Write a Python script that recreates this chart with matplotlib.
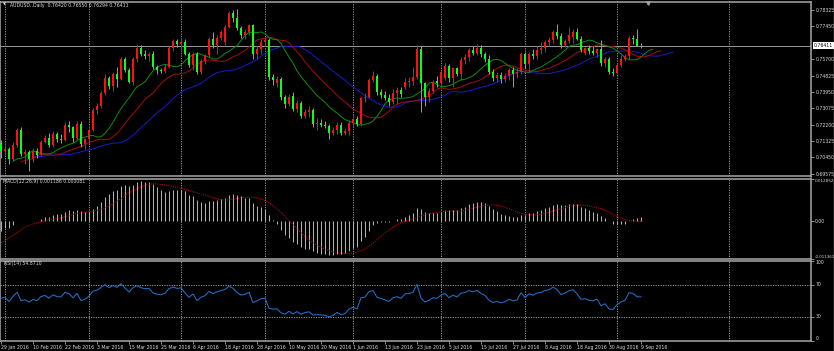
import numpy as np
import pandas as pd
import matplotlib
matplotlib.use("Agg")
import matplotlib.pyplot as plt

# ---------------- data ----------------
# closes before the first visible bar (Nov 2015 - 28 Jan 2016), only used to warm up the indicators
hist_closes = [0.7140, 0.7180, 0.7160, 0.7140, 0.7040, 0.7030, 0.7050, 0.7080, 0.7110, 0.7120, 0.7070,
               0.7090, 0.7130, 0.7160, 0.7180, 0.7230, 0.7210, 0.7200, 0.7230, 0.7210, 0.7230,
               0.7310, 0.7300, 0.7330, 0.7350, 0.7250, 0.7230, 0.7280, 0.7290, 0.7220, 0.7240, 0.7230,
               0.7200, 0.7150, 0.7160, 0.7210, 0.7210, 0.7220, 0.7260, 0.7260, 0.7270, 0.7300, 0.7290, 0.7290,
               0.7290, 0.7170, 0.7130, 0.7050, 0.7020, 0.6990, 0.7000, 0.6970, 0.6930, 0.6960, 0.6850,
               0.6870, 0.6930, 0.6880, 0.6930, 0.7000, 0.6960, 0.7000, 0.7050, 0.7120]

opens = [0.7120, 0.7080, 0.7090, 0.7034, 0.7114, 0.7190, 0.7061, 0.7075, 0.7035, 0.7080,
         0.7060, 0.7130, 0.7150, 0.7110, 0.7170, 0.7145, 0.7140, 0.7220, 0.7205, 0.7150,
         0.7225, 0.7117, 0.7141, 0.7194, 0.7300, 0.7320, 0.7390, 0.7470, 0.7429, 0.7490,
         0.7465, 0.7570, 0.7510, 0.7450, 0.7570, 0.7630, 0.7600, 0.7585, 0.7595, 0.7530,
         0.7510, 0.7505, 0.7530, 0.7630, 0.7665, 0.7650, 0.7660, 0.7600, 0.7540, 0.7600,
         0.7500, 0.7560, 0.7590, 0.7680, 0.7645, 0.7685, 0.7660, 0.7740, 0.7815, 0.7790,
         0.7735, 0.7700, 0.7715, 0.7750, 0.7595, 0.7625, 0.7660, 0.7670, 0.7477, 0.7445,
         0.7465, 0.7370, 0.7330, 0.7375, 0.7305, 0.7335, 0.7268, 0.7290, 0.7300, 0.7223,
         0.7228, 0.7220, 0.7212, 0.7178, 0.7190, 0.7220, 0.7178, 0.7186, 0.7230, 0.7250,
         0.7225, 0.7360, 0.7370, 0.7460, 0.7480, 0.7395, 0.7380, 0.7360, 0.7340, 0.7390,
         0.7405, 0.7420, 0.7450, 0.7455, 0.7475, 0.7625, 0.7440, 0.7370, 0.7400, 0.7455,
         0.7440, 0.7470, 0.7535, 0.7470, 0.7520, 0.7490, 0.7566, 0.7580, 0.7620, 0.7605,
         0.7630, 0.7595, 0.7570, 0.7503, 0.7470, 0.7485, 0.7465, 0.7478, 0.7510, 0.7490,
         0.7500, 0.7600, 0.7545, 0.7600, 0.7585, 0.7620, 0.7628, 0.7660, 0.7670, 0.7715,
         0.7695, 0.7645, 0.7665, 0.7690, 0.7715, 0.7680, 0.7605, 0.7628, 0.7612, 0.7605,
         0.7622, 0.7550, 0.7570, 0.7503, 0.7495, 0.7540, 0.7570, 0.7585, 0.7685, 0.7675,
         0.76420]
highs = [0.7140, 0.7110, 0.7100, 0.7130, 0.7200, 0.7205, 0.7090, 0.7085, 0.7095, 0.7095,
         0.7140, 0.7165, 0.7175, 0.7185, 0.7180, 0.7170, 0.7235, 0.7240, 0.7215, 0.7240,
         0.7240, 0.7150, 0.7200, 0.7310, 0.7335, 0.7400, 0.7490, 0.7480, 0.7500, 0.7530,
         0.7580, 0.7580, 0.7520, 0.7580, 0.7650, 0.7645, 0.7620, 0.7610, 0.7615, 0.7540,
         0.7525, 0.7545, 0.7640, 0.7680, 0.7680, 0.7680, 0.7680, 0.7610, 0.7610, 0.7610,
         0.7570, 0.7600, 0.7690, 0.7715, 0.7700, 0.7725, 0.7750, 0.7825, 0.7835, 0.7836,
         0.7745, 0.7730, 0.7760, 0.7760, 0.7640, 0.7680, 0.7690, 0.7685, 0.7490, 0.7480,
         0.7475, 0.7380, 0.7385, 0.7395, 0.7350, 0.7345, 0.7305, 0.7320, 0.7310, 0.7255,
         0.7250, 0.7240, 0.7225, 0.7210, 0.7235, 0.7235, 0.7200, 0.7245, 0.7270, 0.7265,
         0.7370, 0.7390, 0.7470, 0.7505, 0.7490, 0.7410, 0.7400, 0.7385, 0.7410, 0.7420,
         0.7420, 0.7470, 0.7475, 0.7530, 0.7647, 0.7640, 0.7450, 0.7415, 0.7460, 0.7480,
         0.7510, 0.7550, 0.7545, 0.7530, 0.7530, 0.7580, 0.7600, 0.7630, 0.7640, 0.7650,
         0.7645, 0.7610, 0.7590, 0.7515, 0.7500, 0.7500, 0.7495, 0.7520, 0.7530, 0.7520,
         0.7610, 0.7610, 0.7610, 0.7625, 0.7640, 0.7660, 0.7670, 0.7690, 0.7725, 0.7755,
         0.7710, 0.7680, 0.7740, 0.7730, 0.7735, 0.7695, 0.7635, 0.7645, 0.7640, 0.7630,
         0.7670, 0.7580, 0.7580, 0.7520, 0.7550, 0.7590, 0.7600, 0.7695, 0.7700, 0.7732,
         0.76550]
lows = [0.7040, 0.7060, 0.7010, 0.7025, 0.7100, 0.7050, 0.7010, 0.6975, 0.7020, 0.7040,
        0.7050, 0.7120, 0.7100, 0.7100, 0.7125, 0.7120, 0.7135, 0.7180, 0.7130, 0.7140,
        0.7100, 0.7090, 0.7120, 0.7185, 0.7275, 0.7310, 0.7380, 0.7410, 0.7400, 0.7420,
        0.7460, 0.7500, 0.7440, 0.7430, 0.7555, 0.7585, 0.7570, 0.7560, 0.7515, 0.7490,
        0.7495, 0.7495, 0.7520, 0.7615, 0.7635, 0.7610, 0.7590, 0.7530, 0.7510, 0.7490,
        0.7490, 0.7545, 0.7580, 0.7630, 0.7600, 0.7670, 0.7640, 0.7735, 0.7770, 0.7725,
        0.7685, 0.7680, 0.7700, 0.7570, 0.7570, 0.7600, 0.7640, 0.7460, 0.7430, 0.7420,
        0.7350, 0.7310, 0.7320, 0.7295, 0.7290, 0.7255, 0.7255, 0.7260, 0.7210, 0.7190,
        0.7205, 0.7200, 0.7145, 0.7165, 0.7170, 0.7165, 0.7165, 0.7165, 0.7215, 0.7215,
        0.7215, 0.7340, 0.7360, 0.7450, 0.7380, 0.7360, 0.7350, 0.7320, 0.7330, 0.7330,
        0.7370, 0.7410, 0.7420, 0.7430, 0.7465, 0.7290, 0.7320, 0.7340, 0.7390, 0.7420,
        0.7420, 0.7460, 0.7450, 0.7420, 0.7480, 0.7460, 0.7545, 0.7560, 0.7590, 0.7590,
        0.7580, 0.7555, 0.7490, 0.7455, 0.7450, 0.7440, 0.7450, 0.7460, 0.7420, 0.7470,
        0.7490, 0.7520, 0.7500, 0.7570, 0.7570, 0.7600, 0.7610, 0.7640, 0.7655, 0.7680,
        0.7630, 0.7635, 0.7655, 0.7655, 0.7670, 0.7610, 0.7590, 0.7600, 0.7590, 0.7580,
        0.7535, 0.7530, 0.7490, 0.7480, 0.7490, 0.7530, 0.7560, 0.7570, 0.7650, 0.7640,
        0.76294]
closes = [0.7080, 0.7090, 0.7034, 0.7114, 0.7190, 0.7061, 0.7075, 0.7035, 0.7080, 0.7060,
          0.7130, 0.7150, 0.7110, 0.7170, 0.7145, 0.7140, 0.7220, 0.7205, 0.7150, 0.7225,
          0.7117, 0.7141, 0.7194, 0.7300, 0.7320, 0.7390, 0.7470, 0.7429, 0.7490, 0.7465,
          0.7570, 0.7510, 0.7450, 0.7570, 0.7630, 0.7600, 0.7585, 0.7595, 0.7530, 0.7510,
          0.7505, 0.7530, 0.7630, 0.7665, 0.7650, 0.7660, 0.7600, 0.7540, 0.7600, 0.7500,
          0.7560, 0.7590, 0.7680, 0.7645, 0.7685, 0.7715, 0.7740, 0.7815, 0.7790, 0.7735,
          0.7700, 0.7715, 0.7750, 0.7595, 0.7625, 0.7660, 0.7670, 0.7477, 0.7460, 0.7465,
          0.7370, 0.7330, 0.7370, 0.7305, 0.7335, 0.7268, 0.7290, 0.7300, 0.7223, 0.7228,
          0.7220, 0.7212, 0.7178, 0.7190, 0.7220, 0.7178, 0.7186, 0.7230, 0.7250, 0.7225,
          0.7360, 0.7370, 0.7460, 0.7480, 0.7395, 0.7380, 0.7360, 0.7340, 0.7390, 0.7405,
          0.7385, 0.7450, 0.7455, 0.7475, 0.7625, 0.7440, 0.7370, 0.7400, 0.7450, 0.7440,
          0.7500, 0.7535, 0.7470, 0.7520, 0.7490, 0.7566, 0.7580, 0.7620, 0.7605, 0.7630,
          0.7595, 0.7570, 0.7503, 0.7470, 0.7485, 0.7465, 0.7478, 0.7510, 0.7490, 0.7500,
          0.7600, 0.7545, 0.7600, 0.7585, 0.7620, 0.7628, 0.7660, 0.7670, 0.7715, 0.7695,
          0.7645, 0.7665, 0.7700, 0.7715, 0.7680, 0.7620, 0.7628, 0.7612, 0.7605, 0.7622,
          0.7550, 0.7570, 0.7503, 0.7495, 0.7540, 0.7570, 0.7585, 0.7685, 0.7675, 0.7642,
          0.76411]

date_labels = ["29 Jan 2016", "10 Feb 2016", "22 Feb 2016", "3 Mar 2016", "15 Mar 2016", "25 Mar 2016",
               "6 Apr 2016", "18 Apr 2016", "28 Apr 2016", "10 May 2016", "20 May 2016", "1 Jun 2016",
               "13 Jun 2016", "23 Jun 2016", "5 Jul 2016", "15 Jul 2016", "27 Jul 2016", "8 Aug 2016",
               "18 Aug 2016", "30 Aug 2016", "9 Sep 2016"]
month_start_bars = [1, 22, 45, 66, 88, 110, 131, 154, 182]
price_ticks = [0.78325, 0.77450, 0.75700, 0.74825, 0.73950, 0.73075, 0.72200, 0.71325, 0.70450, 0.69575]
macd_ticks = [-0.011361, 0.0, 0.012852]
rsi_ticks = [0, 30, 70, 100]
bid = 0.76411
title = "AUDUSD..Daily  0.76420 0.76550 0.76294 0.76411"

# ---------------- indicators ----------------
n_hist = len(hist_closes)
all_close = pd.Series(hist_closes + closes)
all_median = pd.Series(hist_closes + [(h + l) / 2 for h, l in zip(highs, lows)])

def smma(s, n):
    return s.ewm(alpha=1.0 / n, adjust=False).mean()

jaw = smma(all_median, 13).values[n_hist:]
teeth = smma(all_median, 8).values[n_hist:]
lips = smma(all_median, 5).values[n_hist:]

ema12 = all_close.ewm(span=12, adjust=False).mean()
ema26 = all_close.ewm(span=26, adjust=False).mean()
macd_main = (ema12 - ema26)
macd_sig = macd_main.rolling(9).mean()
macd_main = macd_main.values[n_hist:]
macd_sig = macd_sig.values[n_hist:]

d = all_close.diff()
gain = d.clip(lower=0).ewm(alpha=1 / 14, adjust=False).mean()
loss = (-d.clip(upper=0)).ewm(alpha=1 / 14, adjust=False).mean()
rsi = (100 - 100 / (1 + gain / loss)).values[n_hist:]

# ---------------- figure ----------------
W, H = 834, 351
fig = plt.figure(figsize=(W / 100, H / 100), dpi=100, facecolor='black')
XL = (-0.25, 202.5)
GRID = '#bdbdbd'
SP = '#a8a8a8'
TXT = '#dcdcdc'
FS = 3.3


def add_ax(top, bottom, left=0, right=811):
    ax = fig.add_axes([left / W, 1 - bottom / H, (right - left) / W, (bottom - top) / H], facecolor='black')
    ax.set_xlim(*XL)
    for s in ax.spines.values():
        s.set_color(SP)
        s.set_linewidth(1.1)
    ax.yaxis.tick_right()
    ax.tick_params(axis='y', colors=SP, labelcolor=TXT, labelsize=FS, length=2, width=0.6, pad=1.5)
    ax.tick_params(axis='x', bottom=False, labelbottom=False)
    for b in month_start_bars:
        ax.axvline(b, color=GRID, lw=0.55, ls=(0, (1.6, 1.6)), zorder=0)
    return ax

axp = add_ax(2, 176.5)
axm = add_ax(178.5, 258.5)
axr = add_ax(260.5, 340.5)

x = np.arange(len(closes))

# candles: red = up, lime = down
UP, DN = '#ff1010', '#10ff10'
cols = [UP if c > o else DN for o, c in zip(opens, closes)]
axp.vlines(x, lows, highs, colors=cols, lw=0.7, zorder=3)
body_h = [max(abs(c - o), 0.00012) for o, c in zip(opens, closes)]
body_b = [min(o, c) for o, c in zip(opens, closes)]
axp.bar(x, body_h, bottom=body_b, width=0.72, color=cols, linewidth=0, zorder=4)

# alligator (jaw 13/8, teeth 8/5, lips 5/3)
axp.plot(x + 8, jaw, color='#1a1acc', lw=0.7, zorder=2)
axp.plot(x + 5, teeth, color='#a50d0d', lw=0.7, zorder=2)
axp.plot(x + 3, lips, color='#0e8e0e', lw=0.7, zorder=2)

axp.axhline(bid, color='#9a9a9a', lw=0.7, zorder=1)
axp.set_ylim(0.69431, 0.78751)
axp.set_yticks(price_ticks)
axp.set_yticklabels([f"{v:.5f}" for v in price_ticks])
axp.text(1.0035, bid, f"{bid:.5f}", transform=axp.get_yaxis_transform(), fontsize=FS, color='black',
         va='center', ha='left', bbox=dict(boxstyle='square,pad=0.25', fc='white', ec='none'), clip_on=False)
fig.text(3 / W, 1 - 5 / H, "\u25BC", fontsize=2.6, color=TXT, va='center', ha='left')
fig.text(10 / W, 1 - 5 / H, title, fontsize=FS, color=TXT, va='center', ha='left')
axp.plot([161.75], [0.7871], marker='v', color='#a0a0a0', ms=2.5, clip_on=False, zorder=6)

# MACD
axm.vlines(x, 0, macd_main, colors='#b8b8b8', lw=0.7, zorder=3)
axm.plot(x, macd_sig, color='#d01010', lw=0.7, ls=(0, (1.0, 1.3)), zorder=4)
axm.set_ylim(macd_ticks[0], macd_ticks[-1])
axm.set_yticks(macd_ticks)
ml = axm.set_yticklabels(["-0.011361", "0.00", "0.012852"])
axm.tick_params(axis='y', pad=0.8)
ml[0].set_va('bottom')
ml[0].set_fontsize(2.9)
ml[2].set_va('top')
ml[2].set_fontsize(3.0)
fig.text(3 / W, 1 - 182 / H, "MACD(12,26,9) 0.001186 0.000081", fontsize=FS, color=TXT, va='center', ha='left')

# RSI
axr.plot(x, rsi, color='#2470c8', lw=0.75, zorder=3)
for lv in (30, 70):
    axr.axhline(lv, color=GRID, lw=0.55, ls=(0, (1.6, 1.6)), zorder=1)
axr.set_ylim(0, 100)
axr.set_yticks(rsi_ticks)
rl = axr.set_yticklabels([str(v) for v in rsi_ticks])
rl[0].set_va('bottom')
rl[-1].set_va('top')
fig.text(4 / W, 1 - 264 / H, "RSI(14) 54.8710", fontsize=FS, color=TXT, va='center', ha='left')

axr.set_xticks(np.arange(0, 161, 8))
axr.set_xticklabels(date_labels)
axr.tick_params(axis='x', bottom=True, labelbottom=True, colors=SP, labelcolor=TXT, labelsize=FS,
                length=2, width=0.6, pad=1.5)
for t in axr.get_xticklabels():
    t.set_ha('left')

fig.add_artist(plt.Line2D([833.5 / W, 833.5 / W], [0, 1], color='#9a9a9a', lw=1.0))

fig.savefig("out.png", dpi=100, facecolor='black')
